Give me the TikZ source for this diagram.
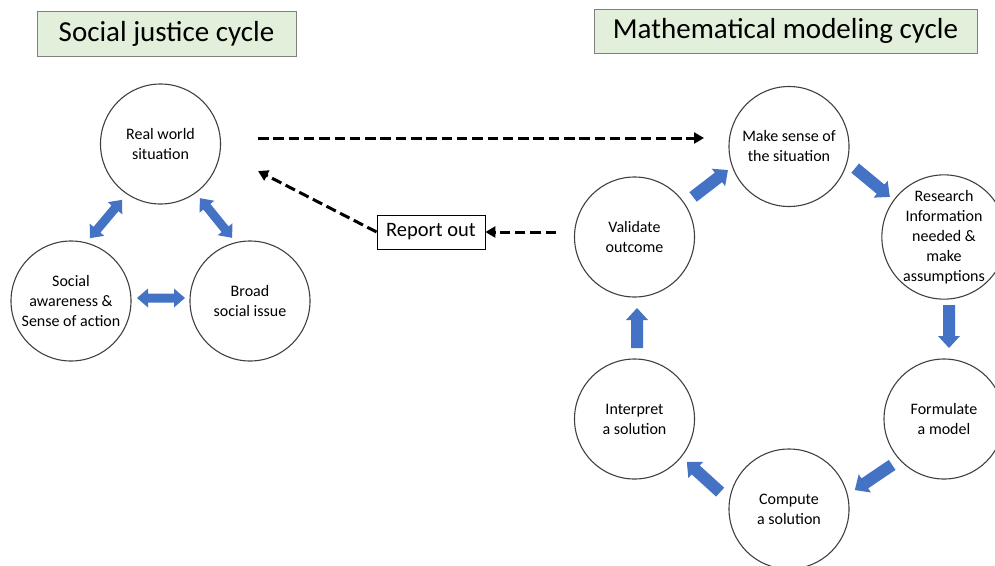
\documentclass[tikz,border=0pt]{standalone}
\usepackage{fontspec}
\setmainfont{Carlito}
\usetikzlibrary{arrows.meta}
\definecolor{titlegreen}{HTML}{E2EFDA}
\definecolor{arrblue}{HTML}{4472C4}
\begin{document}
\begin{tikzpicture}[x=1pt,y=-1pt,
  circ/.style={circle,draw=black!75,line width=1.1pt,minimum size=120pt,inner sep=0pt,align=center,font=\fontsize{16}{20}\selectfont},
  titlebox/.style={draw=black!50,fill=titlegreen,line width=0.9pt,inner sep=0pt,font=\fontsize{29}{33}\selectfont},
  reportbox/.style={draw=black,line width=0.8pt,inner sep=0pt,minimum width=108pt,minimum height=34pt,font=\fontsize{20.5}{24}\selectfont},
  dasharrow/.style={line width=3pt,dash pattern=on 10.5pt off 4.8pt,-{Triangle[length=10pt,width=11pt]}},
  pics/sarr/.style={code={\fill[arrblue] (-#1/2,-6pt) -- (#1/2-12pt,-6pt) -- (#1/2-12pt,-11pt) -- (#1/2,0pt) -- (#1/2-12pt,11pt) -- (#1/2-12pt,6pt) -- (-#1/2,6pt) -- cycle;}},
  pics/darr/.style={code={\fill[arrblue] (-#1/2,0pt) -- (-#1/2+11pt,-9.5pt) -- (-#1/2+11pt,-4.5pt) -- (#1/2-11pt,-4.5pt) -- (#1/2-11pt,-9.5pt) -- (#1/2,0pt) -- (#1/2-11pt,9.5pt) -- (#1/2-11pt,4.5pt) -- (-#1/2+11pt,4.5pt) -- (-#1/2+11pt,9.5pt) -- cycle;}}
]
\useasboundingbox (0,0) rectangle (995,565);

% titles
\node[titlebox,minimum width=259pt,minimum height=45pt] (t1) at (166.5,33.5) {Social justice cycle};
\node[titlebox,minimum width=383pt,minimum height=44pt] (t2) at (785.5,31) {Mathematical modeling cycle};

% social justice cycle
\node[circ] (rw) at (160.5,144) {Real world\\situation};
\node[circ] (sa) at (71,301) {Social\\awareness \&\\Sense of action};
\node[circ] (bsi) at (250,301) {Broad\\social issue};

\pic[rotate=50] at (106,219) {darr=50pt};
\pic[rotate=-51] at (216,218) {darr=51pt};
\pic at (161,298) {darr=48pt};

% report out
\node[reportbox] (ro) at (431,232) {Report out};

% modeling cycle
\node[circ] (ms) at (789,146.5) {Make sense of\\the situation};
\node[circ] (ri) at (944,237) {Research\\Information\\needed \&\\make\\assumptions};
\node[circ] (fm) at (944,419) {Formulate\\a model};
\node[circ] (cs) at (789,509) {Compute\\a solution};
\node[circ] (ip) at (634.5,419) {Interpret\\a solution};
\node[circ] (vo) at (634.5,237) {Validate\\outcome};

\pic[rotate=37.6] at (710.5,183.5) {sarr=44pt};
\pic[rotate=-39.6] at (872.5,182.5) {sarr=45pt};
\pic[rotate=-90] at (949,326.5) {sarr=43pt};
\pic[rotate=214] at (873.5,477.5) {sarr=45pt};
\pic[rotate=137.7] at (703.5,477) {sarr=45pt};
\pic[rotate=90] at (637,328) {sarr=40pt};

% dashed connectors
\coordinate (a1) at (258,138);
\coordinate (a2) at (704,138);
\coordinate (a3) at (258,171);
\coordinate (a4) at (556,232);
\draw[dasharrow] (a1) -- (a2);
\draw[dasharrow] (ro.west) -- (a3);
\draw[dasharrow] (a4) -- (ro.east);
\end{tikzpicture}
\end{document}
